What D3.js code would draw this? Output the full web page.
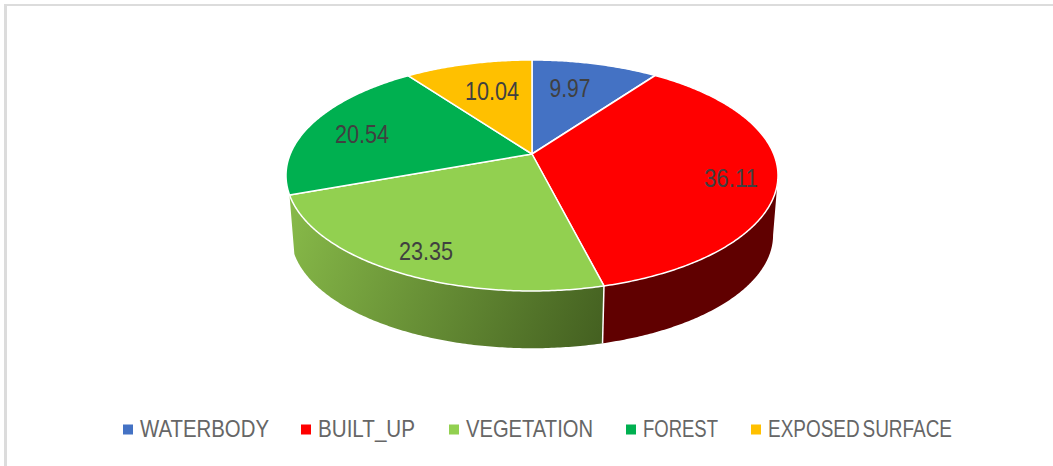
<!DOCTYPE html>
<html><head><meta charset="utf-8">
<style>html,body{margin:0;padding:0;background:#fff}svg{display:block}</style>
<script src="https://cdn.jsdelivr.net/npm/d3@7/dist/d3.min.js"></script></head>
<body><svg id="c" width="1053" height="466"></svg>
<script>
const categories = ["WATERBODY","BUILT_UP","VEGETATION","FOREST","EXPOSED SURFACE"];
const values = [9.97,36.11,23.35,20.54,10.04];
const colors = ["#4472c4","#ff0000","#92d050","#00b050","#ffc000"];
const valueLabels = ["9.97","36.11","23.35","20.54","10.04"];

const svg = d3.select("#c");
const cx=532, cy=154, R=241.7, S=111.5, k=0.186;
const wallDrop=60, wallScale=0.98;
// perspective projection of a point on the unit disc
function proj(a,r=1,drop=0,scale=1){
  const u=r*Math.sin(a), v=-r*Math.cos(a), d=1-k*v;
  return [cx+scale*R*u/d, cy+drop+scale*S*v/d];
}
const arcs = d3.pie().sort(null).value(d=>d)(values);
const line = d3.line();
function samples(a0,a1){
  const n=Math.max(2,Math.ceil(Math.abs(a1-a0)/0.01));
  return d3.range(n+1).map(i=>a0+(a1-a0)*i/n);
}
const defs=svg.append("defs");
const g=defs.append("linearGradient").attr("id","wallGreen").attr("gradientUnits","userSpaceOnUse")
  .attr("x1",290).attr("y1",225).attr("x2",605).attr("y2",345);
g.append("stop").attr("offset",0).attr("stop-color","#86b848");
g.append("stop").attr("offset",1).attr("stop-color","#435f20");

// chart frame (left and top only are visible)
svg.append("line").attr("x1",5.5).attr("x2",5.5).attr("y1",4).attr("y2",466).attr("stroke","#dcdcdc").attr("stroke-width",3);
svg.append("line").attr("x1",4).attr("x2",1053).attr("y1",5).attr("y2",5).attr("stroke","#dcdcdc").attr("stroke-width",2);

// side walls: the part of each slice between the two silhouette tangents
const tangentRight=Math.PI-Math.acos(k), tangentLeft=Math.PI+Math.acos(k);
const wallFill=["none","#600000","url(#wallGreen)","none","none"];
const wall=svg.append("g");
arcs.forEach((d,i)=>{
  if(wallFill[i]==="none") return;
  const start=Math.max(d.startAngle,tangentRight), end=Math.min(d.endAngle,tangentLeft);
  const s=samples(start,end);
  const pts=s.map(a=>proj(a)).concat(s.slice().reverse().map(a=>proj(a,1,wallDrop,wallScale)));
  wall.append("path").attr("d",line(pts)+"Z").attr("fill",wallFill[i]);
});
// wall divider
const divA=arcs[1].endAngle;
wall.append("path").attr("d",line([proj(divA),proj(divA,1,wallDrop,wallScale)])).attr("stroke","#fff").attr("stroke-width",1.5).attr("fill","none");

// top face
svg.append("g").selectAll("path").data(arcs).join("path")
  .attr("d",d=>line([proj(0,0)].concat(samples(d.startAngle,d.endAngle).map(a=>proj(a))))+"Z")
  .attr("fill",(d,i)=>colors[i]).attr("stroke","#fff").attr("stroke-width",1.5).attr("stroke-linejoin","round");

// data labels
const labelCentres=[[570,88],[731,178],[426,251],[362,134],[492,91]];
const labelWidths=[41,54,54,54,54];
svg.append("g").selectAll("text").data(valueLabels).join("text")
  .attr("x",(d,i)=>labelCentres[i][0]).attr("y",(d,i)=>labelCentres[i][1]+9)
  .attr("text-anchor","middle").attr("font-family","'Liberation Sans Narrow','Liberation Sans',sans-serif")
  .attr("font-size",25).attr("fill","#404040")
  .attr("textLength",(d,i)=>labelWidths[i]).attr("lengthAdjust","spacingAndGlyphs").text(d=>d);

// legend
const legendX=[[123,140,129],[301,318,97],[449,466,127],[626,643,75],[751,768,184]];
const lg=svg.append("g").selectAll("g").data(categories).join("g");
lg.append("rect").attr("x",(d,i)=>legendX[i][0]).attr("y",424.5).attr("width",10).attr("height",10)
  .attr("fill",(d,i)=>colors[i]);
lg.append("text").attr("x",(d,i)=>legendX[i][1]).attr("y",437)
  .attr("font-family","'Liberation Sans Narrow','Liberation Sans',sans-serif").attr("font-size",24).attr("fill","#666666")
  .attr("word-spacing",-3)
  .attr("textLength",(d,i)=>legendX[i][2]).attr("lengthAdjust","spacingAndGlyphs").text(d=>d);
</script></body></html>
